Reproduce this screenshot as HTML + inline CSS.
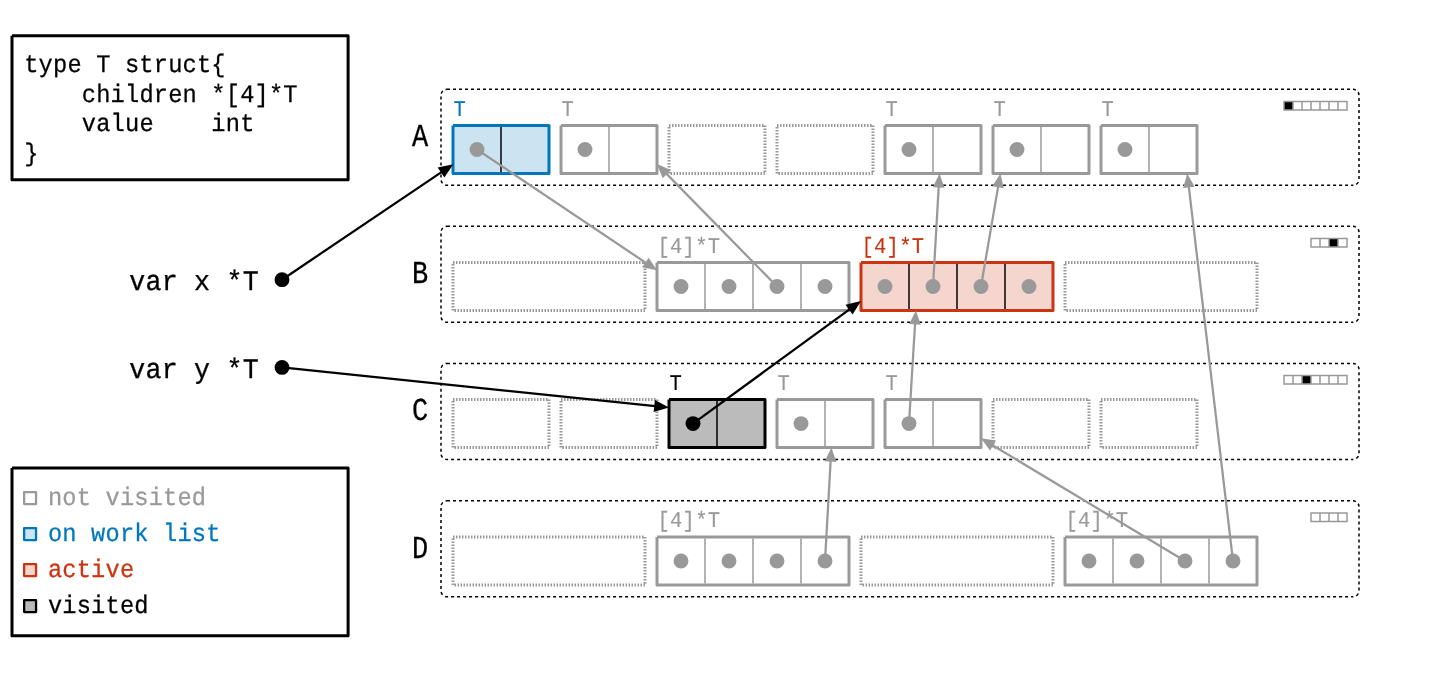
<!DOCTYPE html>
<html lang="en">
<head>
<meta charset="utf-8">
<title>Heap diagram</title>
<style>
html,body{margin:0;padding:0;background:#ffffff;}
body{width:1440px;height:675px;overflow:hidden;}
svg{display:block;will-change:transform;}
svg text{font-family:"Liberation Mono","DejaVu Sans Mono",monospace;white-space:pre;text-rendering:geometricPrecision;}
</style>
</head>
<body>
<svg width="1440" height="675" viewBox="0 0 1440 675">
<rect x="0" y="0" width="1440" height="675" fill="#ffffff"/>
<path d="M447 89.3H1353A6 6 0 0 1 1359 95.3V179.3A6 6 0 0 1 1353 185.3" fill="none" stroke="#000" stroke-width="1.5" stroke-dasharray="3 3"/>
<path d="M1353 185.3H447A6 6 0 0 1 441 179.3V95.3A6 6 0 0 1 447 89.3" fill="none" stroke="#000" stroke-width="1.5" stroke-dasharray="3 3" stroke-dashoffset="1.1"/>
<text transform="translate(420.2 146) scale(0.84 1)" font-size="32.1" fill="#000000" stroke="#000000" stroke-width="0.3" text-anchor="middle">A</text>
<rect x="1284" y="101.5" width="9" height="8.5" fill="#000"/>
<path d="M1284 101.5H1347V110H1284ZM1338 102.25V109.25M1329 102.25V109.25M1320 102.25V109.25M1311 102.25V109.25M1302 102.25V109.25M1293 102.25V109.25" fill="none" stroke="#999999" stroke-width="1.5"/>
<path d="M447 226.3H1353A6 6 0 0 1 1359 232.3V316.3A6 6 0 0 1 1353 322.3" fill="none" stroke="#000" stroke-width="1.5" stroke-dasharray="3 3"/>
<path d="M1353 322.3H447A6 6 0 0 1 441 316.3V232.3A6 6 0 0 1 447 226.3" fill="none" stroke="#000" stroke-width="1.5" stroke-dasharray="3 3" stroke-dashoffset="1.1"/>
<text transform="translate(420.2 283) scale(0.84 1)" font-size="32.1" fill="#000000" stroke="#000000" stroke-width="0.3" text-anchor="middle">B</text>
<rect x="1329" y="238.5" width="9" height="8.5" fill="#000"/>
<path d="M1311 238.5H1347V247H1311ZM1338 239.25V246.25M1329 239.25V246.25M1320 239.25V246.25" fill="none" stroke="#999999" stroke-width="1.5"/>
<path d="M447 363.4H1353A6 6 0 0 1 1359 369.4V453.4A6 6 0 0 1 1353 459.4" fill="none" stroke="#000" stroke-width="1.5" stroke-dasharray="3 3"/>
<path d="M1353 459.4H447A6 6 0 0 1 441 453.4V369.4A6 6 0 0 1 447 363.4" fill="none" stroke="#000" stroke-width="1.5" stroke-dasharray="3 3" stroke-dashoffset="1.1"/>
<text transform="translate(420.2 420.1) scale(0.84 1)" font-size="32.1" fill="#000000" stroke="#000000" stroke-width="0.3" text-anchor="middle">C</text>
<rect x="1302" y="375.6" width="9" height="8.5" fill="#000"/>
<path d="M1284 375.6H1347V384.1H1284ZM1338 376.35V383.35M1329 376.35V383.35M1320 376.35V383.35M1311 376.35V383.35M1302 376.35V383.35M1293 376.35V383.35" fill="none" stroke="#999999" stroke-width="1.5"/>
<path d="M447 500.8H1353A6 6 0 0 1 1359 506.8V590.8A6 6 0 0 1 1353 596.8" fill="none" stroke="#000" stroke-width="1.5" stroke-dasharray="3 3"/>
<path d="M1353 596.8H447A6 6 0 0 1 441 590.8V506.8A6 6 0 0 1 447 500.8" fill="none" stroke="#000" stroke-width="1.5" stroke-dasharray="3 3" stroke-dashoffset="1.1"/>
<text transform="translate(420.2 557.5) scale(0.84 1)" font-size="32.1" fill="#000000" stroke="#000000" stroke-width="0.3" text-anchor="middle">D</text>
<path d="M1311 513H1347V521.5H1311ZM1338 513.75V520.75M1329 513.75V520.75M1320 513.75V520.75" fill="none" stroke="#999999" stroke-width="1.5"/>
<path d="M453 125.5H549V173.5H453V125.5" fill="#cce4f1" stroke="#0077bb" stroke-width="3" stroke-linejoin="round"/>
<line x1="501" y1="127" x2="501" y2="172" stroke="#000000" stroke-width="1.5"/>
<text transform="translate(453.4 115.7) scale(0.92 1)" font-size="22.26" fill="#0077bb" stroke="#0077bb" stroke-width="0.15">T</text>
<path d="M561 125.5H657V173.5H561V125.5" fill="#ffffff" stroke="#999999" stroke-width="3" stroke-linejoin="round"/>
<line x1="609" y1="127" x2="609" y2="172" stroke="#999999" stroke-width="1.5"/>
<text transform="translate(561.4 115.7) scale(0.92 1)" font-size="22.26" fill="#999999" stroke="#999999" stroke-width="0.15">T</text>
<rect x="669" y="125.5" width="96" height="48" fill="none" stroke="#999999" stroke-width="3" stroke-dasharray="1.5 1.5"/>
<rect x="777" y="125.5" width="96" height="48" fill="none" stroke="#999999" stroke-width="3" stroke-dasharray="1.5 1.5"/>
<path d="M885 125.5H981V173.5H885V125.5" fill="#ffffff" stroke="#999999" stroke-width="3" stroke-linejoin="round"/>
<line x1="933" y1="127" x2="933" y2="172" stroke="#999999" stroke-width="1.5"/>
<text transform="translate(885.4 115.7) scale(0.92 1)" font-size="22.26" fill="#999999" stroke="#999999" stroke-width="0.15">T</text>
<path d="M993 125.5H1089V173.5H993V125.5" fill="#ffffff" stroke="#999999" stroke-width="3" stroke-linejoin="round"/>
<line x1="1041" y1="127" x2="1041" y2="172" stroke="#999999" stroke-width="1.5"/>
<text transform="translate(993.4 115.7) scale(0.92 1)" font-size="22.26" fill="#999999" stroke="#999999" stroke-width="0.15">T</text>
<path d="M1101 125.5H1197V173.5H1101V125.5" fill="#ffffff" stroke="#999999" stroke-width="3" stroke-linejoin="round"/>
<line x1="1149" y1="127" x2="1149" y2="172" stroke="#999999" stroke-width="1.5"/>
<text transform="translate(1101.4 115.7) scale(0.92 1)" font-size="22.26" fill="#999999" stroke="#999999" stroke-width="0.15">T</text>
<rect x="453" y="262.5" width="192" height="48" fill="none" stroke="#999999" stroke-width="3" stroke-dasharray="1.5 1.5"/>
<path d="M657 262.5H849V310.5H657V262.5" fill="#ffffff" stroke="#999999" stroke-width="3" stroke-linejoin="round"/>
<line x1="705" y1="264" x2="705" y2="309" stroke="#999999" stroke-width="1.5"/>
<line x1="753" y1="264" x2="753" y2="309" stroke="#999999" stroke-width="1.5"/>
<line x1="801" y1="264" x2="801" y2="309" stroke="#999999" stroke-width="1.5"/>
<text transform="translate(657.4 252.7) scale(0.92 1)" font-size="22.26" letter-spacing="0.34" fill="#999999" stroke="#999999" stroke-width="0.15">[4]*T</text>
<path d="M861 262.5H1053V310.5H861V262.5" fill="#f5d6cf" stroke="#cc3311" stroke-width="3" stroke-linejoin="round"/>
<line x1="909" y1="264" x2="909" y2="309" stroke="#000000" stroke-width="1.5"/>
<line x1="957" y1="264" x2="957" y2="309" stroke="#000000" stroke-width="1.5"/>
<line x1="1005" y1="264" x2="1005" y2="309" stroke="#000000" stroke-width="1.5"/>
<text transform="translate(861.4 252.7) scale(0.92 1)" font-size="22.26" letter-spacing="0.34" fill="#cc3311" stroke="#cc3311" stroke-width="0.15">[4]*T</text>
<rect x="1065" y="262.5" width="192" height="48" fill="none" stroke="#999999" stroke-width="3" stroke-dasharray="1.5 1.5"/>
<rect x="453" y="399.6" width="96" height="48" fill="none" stroke="#999999" stroke-width="3" stroke-dasharray="1.5 1.5"/>
<rect x="561" y="399.6" width="96" height="48" fill="none" stroke="#999999" stroke-width="3" stroke-dasharray="1.5 1.5"/>
<path d="M669 399.6H765V447.6H669V399.6" fill="#bbbbbb" stroke="#000000" stroke-width="3" stroke-linejoin="round"/>
<line x1="717" y1="401.1" x2="717" y2="446.1" stroke="#000000" stroke-width="1.5"/>
<text transform="translate(669.4 389.8) scale(0.92 1)" font-size="22.26" fill="#000000" stroke="#000000" stroke-width="0.15">T</text>
<path d="M777 399.6H873V447.6H777V399.6" fill="#ffffff" stroke="#999999" stroke-width="3" stroke-linejoin="round"/>
<line x1="825" y1="401.1" x2="825" y2="446.1" stroke="#999999" stroke-width="1.5"/>
<text transform="translate(777.4 389.8) scale(0.92 1)" font-size="22.26" fill="#999999" stroke="#999999" stroke-width="0.15">T</text>
<path d="M885 399.6H981V447.6H885V399.6" fill="#ffffff" stroke="#999999" stroke-width="3" stroke-linejoin="round"/>
<line x1="933" y1="401.1" x2="933" y2="446.1" stroke="#999999" stroke-width="1.5"/>
<text transform="translate(885.4 389.8) scale(0.92 1)" font-size="22.26" fill="#999999" stroke="#999999" stroke-width="0.15">T</text>
<rect x="993" y="399.6" width="96" height="48" fill="none" stroke="#999999" stroke-width="3" stroke-dasharray="1.5 1.5"/>
<rect x="1101" y="399.6" width="96" height="48" fill="none" stroke="#999999" stroke-width="3" stroke-dasharray="1.5 1.5"/>
<rect x="453" y="537" width="192" height="48" fill="none" stroke="#999999" stroke-width="3" stroke-dasharray="1.5 1.5"/>
<path d="M657 537H849V585H657V537" fill="#ffffff" stroke="#999999" stroke-width="3" stroke-linejoin="round"/>
<line x1="705" y1="538.5" x2="705" y2="583.5" stroke="#999999" stroke-width="1.5"/>
<line x1="753" y1="538.5" x2="753" y2="583.5" stroke="#999999" stroke-width="1.5"/>
<line x1="801" y1="538.5" x2="801" y2="583.5" stroke="#999999" stroke-width="1.5"/>
<text transform="translate(657.4 527.2) scale(0.92 1)" font-size="22.26" letter-spacing="0.34" fill="#999999" stroke="#999999" stroke-width="0.15">[4]*T</text>
<rect x="861" y="537" width="192" height="48" fill="none" stroke="#999999" stroke-width="3" stroke-dasharray="1.5 1.5"/>
<path d="M1065 537H1257V585H1065V537" fill="#ffffff" stroke="#999999" stroke-width="3" stroke-linejoin="round"/>
<line x1="1113" y1="538.5" x2="1113" y2="583.5" stroke="#999999" stroke-width="1.5"/>
<line x1="1161" y1="538.5" x2="1161" y2="583.5" stroke="#999999" stroke-width="1.5"/>
<line x1="1209" y1="538.5" x2="1209" y2="583.5" stroke="#999999" stroke-width="1.5"/>
<text transform="translate(1065.4 527.2) scale(0.92 1)" font-size="22.26" letter-spacing="0.34" fill="#999999" stroke="#999999" stroke-width="0.15">[4]*T</text>
<line x1="477" y1="149.5" x2="646.21" y2="263.06" stroke="#999999" stroke-width="2.25"/>
<polygon points="657,270.3 642.14,267.32 648.61,257.68" fill="#999999"/>
<line x1="777" y1="286.5" x2="666.1" y2="173.37" stroke="#999999" stroke-width="2.25"/>
<polygon points="657,164.08 670.94,170.02 662.66,178.14" fill="#999999"/>
<line x1="933" y1="286.5" x2="938.73" y2="186.48" stroke="#999999" stroke-width="2.25"/>
<polygon points="939.47,173.5 944.46,187.81 932.88,187.15" fill="#999999"/>
<line x1="981" y1="286.5" x2="998.22" y2="186.31" stroke="#999999" stroke-width="2.25"/>
<polygon points="1000.42,173.5 1003.77,188.28 992.34,186.32" fill="#999999"/>
<line x1="909" y1="423.6" x2="915.07" y2="323.48" stroke="#999999" stroke-width="2.25"/>
<polygon points="915.86,310.5 920.8,324.83 909.22,324.12" fill="#999999"/>
<line x1="825" y1="561" x2="830.65" y2="460.58" stroke="#999999" stroke-width="2.25"/>
<polygon points="831.38,447.6 836.38,461.9 824.8,461.25" fill="#999999"/>
<line x1="1185" y1="561" x2="992.14" y2="445" stroke="#999999" stroke-width="2.25"/>
<polygon points="981,438.3 995.99,440.54 990.01,450.48" fill="#999999"/>
<line x1="1233" y1="561" x2="1188.77" y2="186.41" stroke="#999999" stroke-width="2.25"/>
<polygon points="1187.25,173.5 1194.65,186.72 1183.13,188.08" fill="#999999"/>
<line x1="693" y1="423.6" x2="849.86" y2="309.04" stroke="#000000" stroke-width="2.25"/>
<polygon points="861,300.9 852.59,314.47 845.51,304.78" fill="#000000"/>
<line x1="282" y1="279.7" x2="441.86" y2="171.85" stroke="#000000" stroke-width="2.25"/>
<polygon points="453.3,164.13 444.39,177.38 437.68,167.44" fill="#000000"/>
<line x1="282" y1="367.4" x2="655.27" y2="406.06" stroke="#000000" stroke-width="2.25"/>
<polygon points="669,407.48 653.66,411.92 654.9,399.99" fill="#000000"/>
<circle cx="477" cy="149.5" r="7.45" fill="#999999"/>
<circle cx="585" cy="149.5" r="7.45" fill="#999999"/>
<circle cx="909" cy="149.5" r="7.45" fill="#999999"/>
<circle cx="1017" cy="149.5" r="7.45" fill="#999999"/>
<circle cx="1125" cy="149.5" r="7.45" fill="#999999"/>
<circle cx="681" cy="286.5" r="7.45" fill="#999999"/>
<circle cx="729" cy="286.5" r="7.45" fill="#999999"/>
<circle cx="777" cy="286.5" r="7.45" fill="#999999"/>
<circle cx="825" cy="286.5" r="7.45" fill="#999999"/>
<circle cx="885" cy="286.5" r="7.45" fill="#999999"/>
<circle cx="933" cy="286.5" r="7.45" fill="#999999"/>
<circle cx="981" cy="286.5" r="7.45" fill="#999999"/>
<circle cx="1029" cy="286.5" r="7.45" fill="#999999"/>
<circle cx="693" cy="423.6" r="7.45" fill="#000000"/>
<circle cx="801" cy="423.6" r="7.45" fill="#999999"/>
<circle cx="909" cy="423.6" r="7.45" fill="#999999"/>
<circle cx="681" cy="561" r="7.45" fill="#999999"/>
<circle cx="729" cy="561" r="7.45" fill="#999999"/>
<circle cx="777" cy="561" r="7.45" fill="#999999"/>
<circle cx="825" cy="561" r="7.45" fill="#999999"/>
<circle cx="1089" cy="561" r="7.45" fill="#999999"/>
<circle cx="1137" cy="561" r="7.45" fill="#999999"/>
<circle cx="1185" cy="561" r="7.45" fill="#999999"/>
<circle cx="1233" cy="561" r="7.45" fill="#999999"/>
<circle cx="282" cy="279.7" r="7.4" fill="#000"/>
<circle cx="282" cy="367.4" r="7.4" fill="#000"/>
<path d="M12 35.8H348.1V179.7H12V35.8" fill="none" stroke="#000" stroke-width="3" stroke-linejoin="round"/>
<text transform="translate(24.2 72) scale(0.94 1)" font-size="25.2" letter-spacing="0.2" fill="#000000" stroke="#000000" stroke-width="0.26">type T struct{</text>
<text transform="translate(81.8 101.6) scale(0.94 1)" font-size="25.2" letter-spacing="0.2" fill="#000000" stroke="#000000" stroke-width="0.26">children *[4]*T</text>
<text transform="translate(81.8 131.2) scale(0.94 1)" font-size="25.2" letter-spacing="0.2" fill="#000000" stroke="#000000" stroke-width="0.26">value    int</text>
<text transform="translate(24.2 160.8) scale(0.94 1)" font-size="25.2" fill="#000000" stroke="#000000" stroke-width="0.26">}</text>
<text transform="translate(129.3 290) scale(0.94 1)" font-size="28.35" letter-spacing="0.22" fill="#000000" stroke="#000000" stroke-width="0.3">var x *T</text>
<text transform="translate(129.3 378) scale(0.94 1)" font-size="28.35" letter-spacing="0.22" fill="#000000" stroke="#000000" stroke-width="0.3">var y *T</text>
<path d="M12 468H348.1V635.7H12V468" fill="none" stroke="#000" stroke-width="3" stroke-linejoin="round"/>
<rect x="24.15" y="492.1" width="11.9" height="12" fill="#ffffff" stroke="#999999" stroke-width="2.3" stroke-linejoin="round"/>
<text transform="translate(47.9 505.1) scale(0.94 1)" font-size="25.2" letter-spacing="0.2" fill="#999999" stroke="#999999" stroke-width="0.26">not visited</text>
<rect x="24.15" y="528.1" width="11.9" height="12" fill="#cce4f1" stroke="#0077bb" stroke-width="2.3" stroke-linejoin="round"/>
<text transform="translate(47.9 541.1) scale(0.94 1)" font-size="25.2" letter-spacing="0.2" fill="#0077bb" stroke="#0077bb" stroke-width="0.26">on work list</text>
<rect x="24.15" y="564.1" width="11.9" height="12" fill="#f5d6cf" stroke="#cc3311" stroke-width="2.3" stroke-linejoin="round"/>
<text transform="translate(47.9 577.1) scale(0.94 1)" font-size="25.2" letter-spacing="0.2" fill="#cc3311" stroke="#cc3311" stroke-width="0.26">active</text>
<rect x="24.15" y="600.1" width="11.9" height="12" fill="#bbbbbb" stroke="#000000" stroke-width="2.3" stroke-linejoin="round"/>
<text transform="translate(47.9 613.1) scale(0.94 1)" font-size="25.2" letter-spacing="0.2" fill="#000000" stroke="#000000" stroke-width="0.26">visited</text>
</svg>
</body>
</html>
